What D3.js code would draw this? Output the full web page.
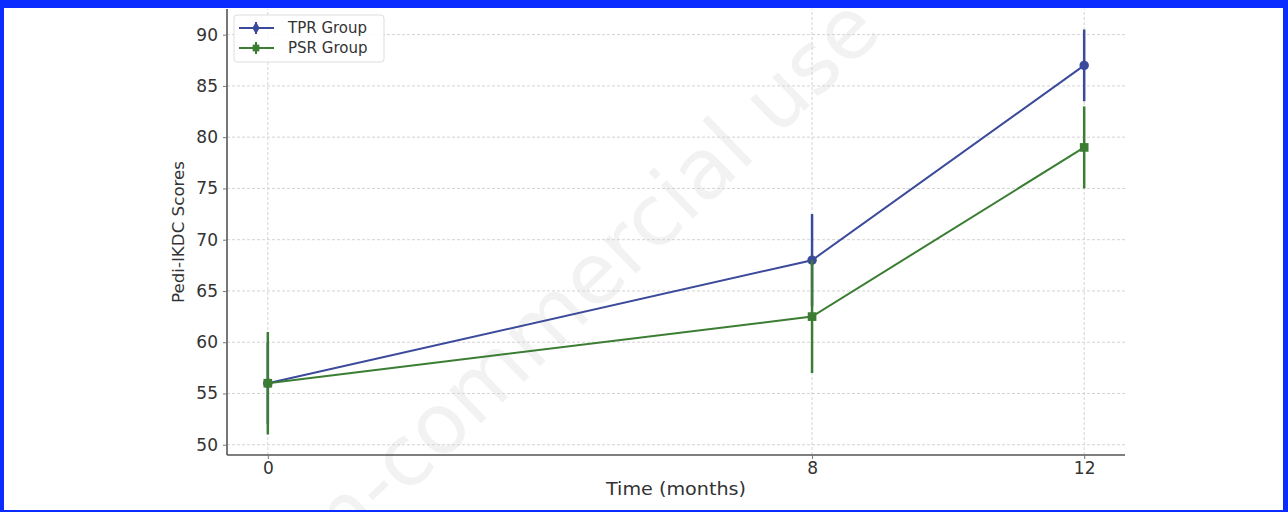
<!DOCTYPE html>
<html>
<head>
<meta charset="utf-8">
<script src="https://cdn.jsdelivr.net/npm/d3@7"></script>
<style>
  body { margin: 0; background: #fff; }
  svg { display: block; font-family: "DejaVu Sans", sans-serif; }
</style>
</head>
<body>
<div id="chart"></div>
<script>
// data
var months = [0, 8, 12];
var tprMean = [56, 68, 87];
var tprErr = [4, 4.5, 3.5];
var psrMean = [56, 62.5, 79];
var psrErr = [5, 5.5, 4];
var yTicks = [50, 55, 60, 65, 70, 75, 80, 85, 90];
var seriesNames = ["TPR Group", "PSR Group"];

var W = 1288, H = 512;
var blue = "#3b4a9b", green = "#3b7d32";

d3.select("#chart > svg").remove();
var svg = d3.select("#chart").append("svg")
  .attr("width", W)
  .attr("height", H);

svg.append("rect").attr("width", W).attr("height", H).attr("fill", "#fff");

// faint watermark (cut by the frame in the original too)
svg.append("text")
  .attr("transform", "translate(884,34) rotate(-44)")
  .attr("text-anchor", "end")
  .attr("font-size", 84)
  .attr("fill", "#f2f2f2")
  .text("Non-commercial use");

var x = d3.scaleLinear().domain([-0.6, 12.6]).range([227, 1125]);
var y = d3.scaleLinear().domain([49.0, 92.5]).range([455, 9]);

// grid
svg.append("g").selectAll("line").data(yTicks).enter().append("line")
  .attr("x1", x.range()[0]).attr("x2", x.range()[1])
  .attr("y1", function(d) { return y(d); }).attr("y2", function(d) { return y(d); })
  .attr("stroke", "#d4d4d4").attr("stroke-width", 1)
  .style("stroke-dasharray", "3, 2");
svg.append("g").selectAll("line").data(months).enter().append("line")
  .attr("x1", function(d) { return x(d); }).attr("x2", function(d) { return x(d); })
  .attr("y1", y.range()[0]).attr("y2", y.range()[1])
  .attr("stroke", "#d4d4d4").attr("stroke-width", 1)
  .style("stroke-dasharray", "3, 2");

// axes
var xAxis = svg.append("g")
  .attr("transform", "translate(0," + y.range()[0] + ")")
  .call(d3.axisBottom(x).tickValues(months).tickSize(4).tickPadding(3));
var yAxis = svg.append("g")
  .attr("transform", "translate(" + x.range()[0] + ",0)")
  .call(d3.axisLeft(y).tickValues(yTicks).tickSize(4).tickPadding(5));
[xAxis, yAxis].forEach(function(a) {
  a.select(".domain").attr("stroke", "#555").attr("stroke-width", 1.6);
  a.selectAll(".tick line").attr("stroke", "#777");
  a.selectAll(".tick text").attr("font-size", 17).attr("fill", "#333")
    .attr("font-family", "DejaVu Sans, sans-serif");
});
xAxis.select(".domain").attr("d", "M" + x.range()[0] + ",0H" + x.range()[1]);
yAxis.select(".domain").attr("d", "M0," + y.range()[0] + "V" + y.range()[1]);

svg.append("text")
  .attr("x", 676)
  .attr("y", 495)
  .attr("text-anchor", "middle")
  .attr("font-size", 17.5).attr("fill", "#333")
  .attr("textLength", 140).attr("lengthAdjust", "spacingAndGlyphs")
  .text("Time (months)");
svg.append("text")
  .attr("transform", "translate(184,232) rotate(-90)")
  .attr("text-anchor", "middle")
  .attr("font-size", 16.7).attr("fill", "#333")
  .text("Pedi-IKDC Scores");

function drawSeries(means, errs, color, shape) {
  var g = svg.append("g");
  var line = d3.line()
    .x(function(d, i) { return x(months[i]); })
    .y(function(d) { return y(d); });
  g.append("path").datum(means)
    .attr("d", line)
    .attr("fill", "none")
    .attr("stroke", color)
    .attr("stroke-width", 2);
  g.selectAll(".err").data(means).enter().append("line")
    .attr("x1", function(d, i) { return x(months[i]); })
    .attr("x2", function(d, i) { return x(months[i]); })
    .attr("y1", function(d, i) { return y(d - errs[i]); })
    .attr("y2", function(d, i) { return y(d + errs[i]); })
    .attr("stroke", color).attr("stroke-width", 2.5);
  g.selectAll(".pt").data(means).enter().append("path")
    .attr("transform", function(d, i) { return "translate(" + x(months[i]) + "," + y(d) + ")"; })
    .attr("d", d3.symbol().type(shape).size(shape === d3.symbolSquare ? 75 : 70))
    .attr("fill", color);
}
drawSeries(tprMean, tprErr, blue, d3.symbolCircle);
drawSeries(psrMean, psrErr, green, d3.symbolSquare);

// legend
var lg = svg.append("g").attr("transform", "translate(234,15)");
lg.append("rect")
  .attr("width", 150).attr("height", 47).attr("rx", 3)
  .attr("fill", "#fff").attr("fill-opacity", 0.85)
  .attr("stroke", "#ddd");
var lcol = [blue, green];
var lshape = [d3.symbolDiamond, d3.symbolSquare];
seriesNames.forEach(function(name, i) {
  var cy = 13 + i * 20;
  lg.append("line").attr("x1", 5).attr("x2", 40).attr("y1", cy).attr("y2", cy)
    .attr("stroke", lcol[i]).attr("stroke-width", 2);
  lg.append("line").attr("x1", 22).attr("x2", 22).attr("y1", cy - 6).attr("y2", cy + 6)
    .attr("stroke", lcol[i]).attr("stroke-width", 2);
  lg.append("path").attr("transform", "translate(22," + cy + ")")
    .attr("d", d3.symbol().type(lshape[i]).size(45))
    .attr("fill", lcol[i]);
  lg.append("text").attr("x", 54).attr("y", cy + 5)
    .attr("font-size", 15).attr("fill", "#333")
    .text(name);
});

// blue frame
svg.append("rect").attr("x", 0).attr("y", 0).attr("width", W).attr("height", 8).attr("fill", "#0a2cff");
svg.append("rect").attr("x", 0).attr("y", 0).attr("width", 4).attr("height", H).attr("fill", "#0a2cff");
svg.append("rect").attr("x", W - 5).attr("y", 0).attr("width", 5).attr("height", H).attr("fill", "#0a2cff");
svg.append("rect").attr("x", 0).attr("y", H - 2).attr("width", W).attr("height", 2).attr("fill", "#0a2cff");
</script>
</body>
</html>
